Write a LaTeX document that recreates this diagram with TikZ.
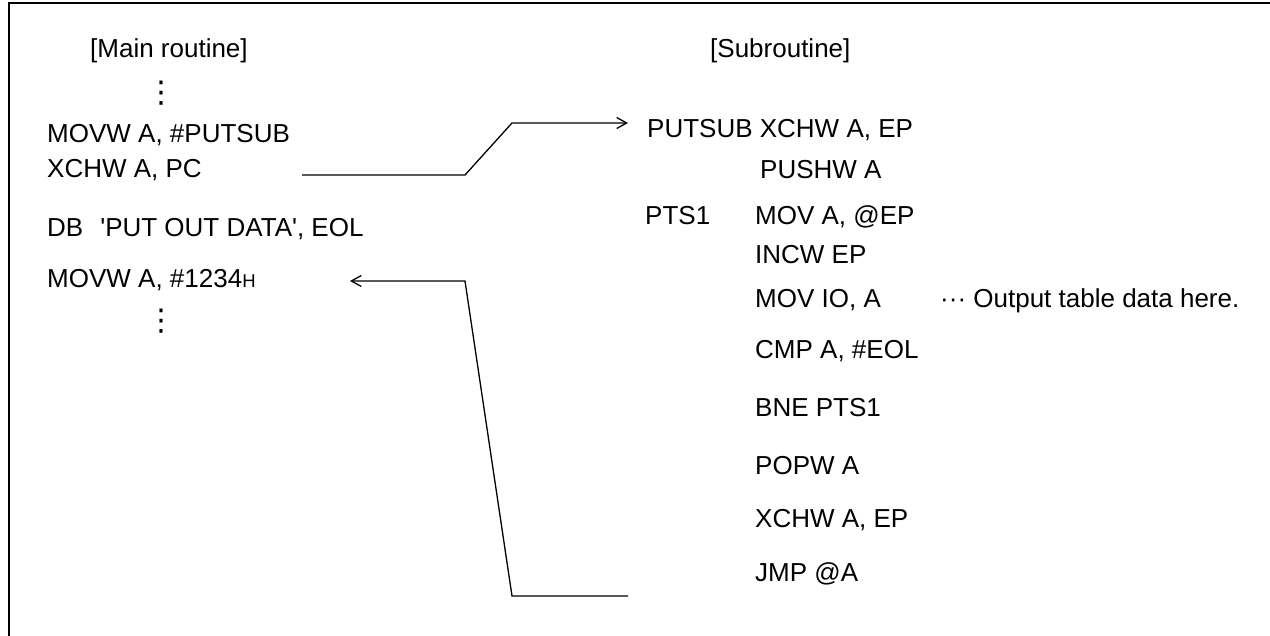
\documentclass[tikz,border=0pt]{standalone}
\usepackage{fontspec}
\setmainfont{Liberation Sans}
\newfontfamily\dejavu{DejaVu Sans}
\usetikzlibrary{arrows.meta}
\begin{document}
\begin{tikzpicture}[x=1pt,y=-1pt,
  code/.style={anchor=base west, inner sep=0pt, font=\fontsize{26}{30}\selectfont},
  vdots/.style={anchor=center, inner sep=0pt, font=\dejavu\fontsize{30}{30}\selectfont},
  link/.style={line width=1.3pt, -{Straight Barb[length=10pt,width=11pt,line width=1.3pt]}},
  frame/.style={line width=2.4pt}]
\useasboundingbox (0,0) rectangle (1270,636);
\draw[frame] (9,640) -- (9,3) -- (1275,3);

% main routine
\node[code] (mainhd) at (90,58) {[Main routine]};
\node[vdots] (dA) at (161,93) {⋮};
\node[code] (m1) at (47,143) {MOVW A, \#PUTSUB};
\node[code] (m2) at (47,178) {XCHW A, PC};
\node[code] (m3) at (47,237) {DB\hspace{17pt}\textquotesingle PUT OUT DATA\textquotesingle, EOL};
\node[code] (m4) at (47,288) {MOVW A, \#1234{\fontsize{18.5}{20}\selectfont H}};
\node[vdots] (dB) at (161,321) {⋮};

% subroutine
\node[code] (subhd) at (710,58) {[Subroutine]};
\node[code] (s1) at (647,138) {PUTSUB XCHW A, EP};
\node[code] (s2) at (760,179) {PUSHW A};
\node[code] (s3l) at (645,225) {PTS1};
\node[code] (s3) at (755,225) {MOV A, @EP};
\node[code] (s4) at (755,264) {INCW EP};
\node[code] (s5) at (755,308) {MOV IO, A};
\node[code] (note) at (940,308) {··· Output table data here.};
\node[code] (s6) at (755,359) {CMP A, \#EOL};
\node[code] (s7) at (755,417) {BNE PTS1};
\node[code] (s8) at (755,474) {POPW A};
\node[code] (s9) at (755,527) {XCHW A, EP};
\node[code] (s10) at (755,581) {JMP @A};

% connectors
\coordinate (c1a) at (302,175);
\coordinate (c1b) at (465,175);
\coordinate (c1c) at (512,123);
\coordinate (c1d) at (628,123);
\draw[link] (c1a) -- (c1b) -- (c1c) -- (c1d);

\coordinate (c2a) at (628,596);
\coordinate (c2b) at (512,596);
\coordinate (c2c) at (465,281);
\coordinate (c2d) at (350,281);
\draw[link] (c2a) -- (c2b) -- (c2c) -- (c2d);
\end{tikzpicture}
\end{document}
